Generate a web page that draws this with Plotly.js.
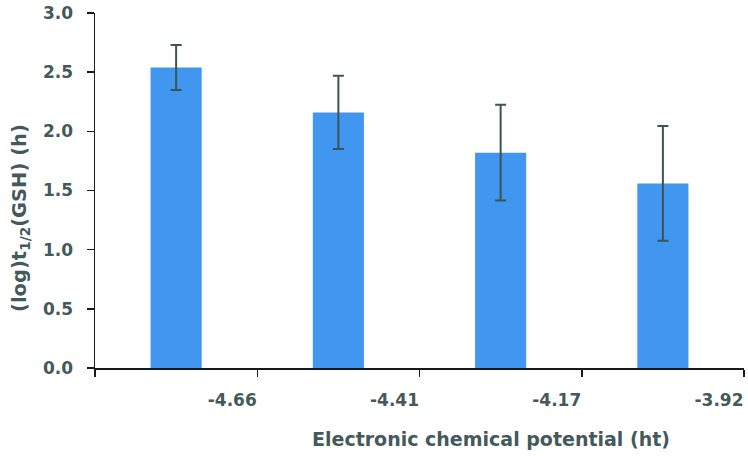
<!DOCTYPE html>
<html>
<head>
<meta charset="utf-8">
<script src="https://cdn.plot.ly/plotly-3.0.1.min.js"></script>
<style>html,body{margin:0;padding:0;background:#fff;}#chart{width:748px;height:456px;}</style>
</head>
<body>
<div id="chart"></div>
<script>
const categories = ["-4.66", "-4.41", "-4.17", "-3.92"];
const values = [2.54, 2.16, 1.82, 1.56];
const errors = [0.19, 0.31, 0.405, 0.485];
const yTickVals = [0, 0.5, 1, 1.5, 2, 2.5, 3];

const idx = categories.map((c, i) => i);
const tickPos = [-0.5].concat(idx.map(i => i + 0.5));
const tickText = [""].concat(categories);

const textColor = "#44595a";
const fontFam = "'DejaVu Sans', sans-serif";

const trace = {
  type: "bar",
  x: idx,
  y: values,
  width: 0.315,
  marker: {color: "#4196f0"},
  error_y: {type: "data", array: errors, visible: true, color: "#3c5454", thickness: 2, width: 5.5},
  hoverinfo: "skip"
};

const layout = {
  width: 748, height: 456,
  margin: {l: 95, r: 4, t: 13, b: 88},
  paper_bgcolor: "#fff", plot_bgcolor: "#fff",
  showlegend: false,
  font: {family: fontFam, color: textColor, size: 17, weight: "bold"},
  xaxis: {
    range: [-0.5, 3.5],
    tickmode: "array", tickvals: tickPos, ticktext: tickText,
    ticks: "outside", ticklen: 7, tickwidth: 1.5, tickcolor: "#1a1a1a",
    showline: true, linecolor: "#1a1a1a", linewidth: 1.5,
    showgrid: false, zeroline: false,
    ticklabelshift: -25, ticklabelstandoff: 9,
    tickfont: {family: fontFam, size: 17, color: textColor, weight: "bold"},
    fixedrange: true
  },
  yaxis: {
    range: [0, 3],
    tickmode: "array", tickvals: yTickVals, tickformat: ".1f",
    ticks: "outside", ticklen: 7, tickwidth: 1.5, tickcolor: "#1a1a1a",
    showline: true, linecolor: "#1a1a1a", linewidth: 1.5,
    showgrid: false, zeroline: false,
    ticklabelstandoff: 10,
    tickfont: {family: fontFam, size: 17, color: textColor, weight: "bold"},
    fixedrange: true
  },
  annotations: [{
    text: "Electronic chemical potential (ht)",
    xref: "paper", yref: "paper",
    x: (491 - 95) / 649, y: (368 - 439) / 355, xanchor: "center", yanchor: "middle",
    showarrow: false,
    font: {family: fontFam, size: 19, color: textColor, weight: "bold"}
  }, {
    text: "(log)t<sub>1/2</sub>(GSH) (h)",
    xref: "paper", yref: "paper",
    x: (20 - 95) / 649, y: (368 - 218) / 355, xanchor: "center", yanchor: "middle",
    textangle: -90,
    showarrow: false,
    font: {family: fontFam, size: 19.5, color: textColor, weight: "bold"}
  }]
};

Plotly.newPlot("chart", [trace], layout, {displayModeBar: false, staticPlot: true});
</script>
</body>
</html>
